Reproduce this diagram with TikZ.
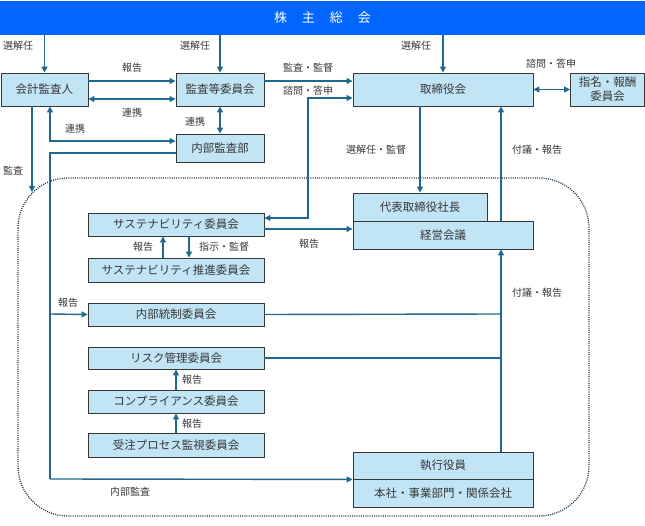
\documentclass[tikz,border=0pt]{standalone}
\usepackage{fontspec}
\setmainfont{Noto Sans CJK JP}
\usetikzlibrary{arrows.meta}
\definecolor{bannerblue}{RGB}{0,102,255}
\definecolor{boxfill}{RGB}{193,229,245}
\definecolor{boxline}{RGB}{55,55,55}
\definecolor{conn}{RGB}{30,105,140}
\definecolor{txt}{RGB}{55,55,55}
\definecolor{dotc}{RGB}{35,55,70}
\begin{document}
\begin{tikzpicture}[x=1pt,y=-1pt,
 box/.style={draw=boxline, fill=boxfill, line width=0.9pt, inner sep=0pt, text=txt, font=\fontsize{11.5}{13}\selectfont, align=center},
 lbl/.style={text=txt, font=\fontsize{10}{11}\selectfont, inner sep=0pt},
 tip/.tip={Triangle[length=6pt,width=6pt]},
 arr/.style={draw=conn, line width=1.4pt, -tip},
 darr/.style={draw=conn, line width=1.4pt, tip-tip},
 ln/.style={draw=conn, line width=1.4pt},
]
\useasboundingbox (0,0) rectangle (645,526);

% dotted enclosure
\draw[dotc, line width=1.3pt, dash pattern=on 1pt off 1.2pt, rounded corners=50pt] (18,178) rectangle (589,516);

% banner
\node[fill=bannerblue, minimum width=645pt, minimum height=34pt, inner sep=0pt, text=white, font=\fontsize{13}{15}\selectfont] (banner) at (322.5,18) {株\hspace{15pt}主\hspace{15pt}総\hspace{15pt}会};

% top row
\node[box, minimum width=87pt, minimum height=33pt] (kaikei) at (44.5,89.5) {会計監査人};
\node[box, minimum width=88pt, minimum height=33pt] (kansa) at (220,89.5) {監査等委員会};
\node[box, minimum width=180pt, minimum height=33pt] (tori) at (443,89.5) {取締役会};
\node[box, minimum width=74pt, minimum height=33pt, font=\fontsize{11.5}{14}\selectfont] (shimei) at (607.5,89.5) {指名・報酬\\委員会};
\node[box, minimum width=88pt, minimum height=28pt] (naibu) at (220,148) {内部監査部};

% left column
\node[box, minimum width=176pt, minimum height=23pt] (sus) at (176,224.5) {サステナビリティ委員会};
\node[box, minimum width=176pt, minimum height=24pt] (susp) at (176,270) {サステナビリティ推進委員会};
\node[box, minimum width=176pt, minimum height=23pt] (tousei) at (176,314.5) {内部統制委員会};
\node[box, minimum width=176pt, minimum height=22pt] (risk) at (176,358) {リスク管理委員会};
\node[box, minimum width=176pt, minimum height=23pt] (comp) at (176,401.5) {コンプライアンス委員会};
\node[box, minimum width=176pt, minimum height=24pt] (juchu) at (176,445) {受注プロセス監視委員会};

% right column
\node[box, minimum width=134pt, minimum height=28pt] (daihyo) at (420,207) {代表取締役社長};
\node[box, minimum width=180pt, minimum height=28pt] (keiei) at (443,235) {経営会議};
\node[box, minimum width=180pt, minimum height=27pt] (shikko) at (443,465.5) {執行役員};
\node[box, minimum width=180pt, minimum height=28pt] (honsha) at (443,493) {本社・事業部門・関係会社};

% helper coordinates
\coordinate (kx) at (32,192);
\coordinate (j1) at (50,141);
\coordinate (j2) at (50,153);
\coordinate (j3) at (50,314);
\coordinate (j4) at (50,479);
\coordinate (s1) at (308,218);
\coordinate (s2) at (308,98);
\coordinate (r1) at (501,314);
\coordinate (r2) at (501,358);

% shareholders meeting
\draw[arr] (kaikei.north |- banner.south) -- (kaikei.north);
\draw[arr] (kansa.north |- banner.south) -- (kansa.north);
\draw[arr] (tori.north |- banner.south) -- (tori.north);

% top row connections
\draw[arr] (kaikei.east |- 0,81) -- (kansa.west |- 0,81);
\draw[darr] (kaikei.east |- 0,99) -- (kansa.west |- 0,99);
\draw[darr] (kansa.south) -- (naibu.north);
\draw[darr] (50,0 |- kaikei.south) -- (j1) -- (naibu.west |- j1);
\draw[arr] (32,0 |- kaikei.south) -- (kx);
\draw[arr] (kansa.east |- 0,81) -- (tori.west |- 0,81);
\draw[darr] (sus.east |- s1) -- (s1) -- (s2) -- (tori.west |- s2);
\draw[darr] (tori.east) -- (shimei.west);

% internal audit line
\draw[ln] (naibu.west |- j2) -- (j2) -- (j4);
\draw[arr] (j4) -- (shikko.south west);
\draw[arr] (j3) -- (tousei.west);

% president / management
\draw[arr] (daihyo.north |- tori.south) -- (daihyo.north);
\draw[arr] (501,0 |- keiei.north) -- (501,0 |- tori.south);
\draw[arr] (sus.east |- 0,229) -- (keiei.west |- 0,229);
\draw[arr] (501,0 |- shikko.north) -- (501,0 |- keiei.south);
\draw[ln] (tousei.east) -- (r1);
\draw[ln] (risk.east) -- (r2);

% sustainability
\draw[arr] (163,0 |- susp.north) -- (163,0 |- sus.south);
\draw[arr] (189,0 |- sus.south) -- (189,0 |- susp.north);
\draw[arr] (comp.north) -- (risk.south);
\draw[arr] (juchu.north) -- (comp.south);

% labels
\node[lbl] at (18,46) {選解任};
\node[lbl] at (195,46) {選解任};
\node[lbl] at (416,46) {選解任};
\node[lbl] at (132,68) {報告};
\node[lbl] at (132,113) {連携};
\node[lbl] at (195,122) {連携};
\node[lbl] at (75,129) {連携};
\node[lbl] at (13,171) {監査};
\node[lbl] at (308,68) {監査・監督};
\node[lbl] at (308,91) {諮問・答申};
\node[lbl] at (551,64) {諮問・答申};
\node[lbl] at (376,150) {選解任・監督};
\node[lbl] at (537,150) {付議・報告};
\node[lbl] at (143,247) {報告};
\node[lbl] at (224,247) {指示・監督};
\node[lbl] at (309,244) {報告};
\node[lbl] at (68,303) {報告};
\node[lbl] at (537,293) {付議・報告};
\node[lbl] at (192,380) {報告};
\node[lbl] at (192,424) {報告};
\node[lbl] at (130,492) {内部監査};
\end{tikzpicture}
\end{document}
